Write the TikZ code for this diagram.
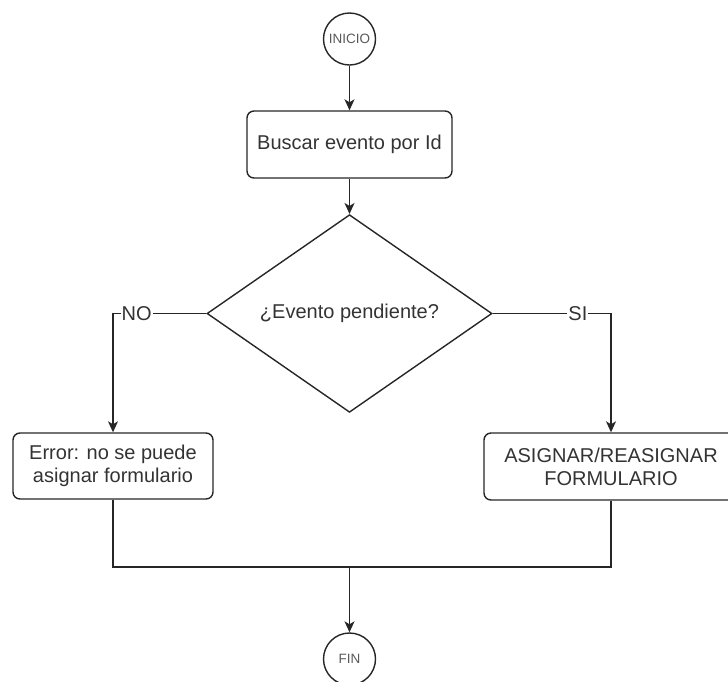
\documentclass[tikz,border=0pt]{standalone}
\usepackage{fontspec}
\setmainfont{Liberation Sans}
\usetikzlibrary{shapes.geometric,arrows.meta}

\begin{document}
\begin{tikzpicture}[x=1pt, y=-1pt, line width=1.4pt,
        >={Stealth[length=11pt, width=10pt, inset=3pt]},
        every node/.style={text=black!80, font=\fontsize{20}{23}\selectfont},
        terminal/.style={draw=black!85, circle, minimum size=52pt, inner sep=0pt, text=black!65, font=\fontsize{13.5}{15}\selectfont},
        proceso/.style={draw=black!85, rounded corners=7pt, align=center, inner sep=0pt},
        decision/.style={draw=black!85, diamond, minimum width=285pt, minimum height=137pt, inner sep=0pt},
        etiqueta/.style={fill=white, inner sep=1pt},
        linea/.style={draw=black!85}]
        \useasboundingbox (0, 0) rectangle (728, 681);
        \node [terminal] (inicio) at (349.5, 39) {INICIO};
        \node [proceso, minimum width=205pt, minimum height=67pt] (buscar) at (349.5, 144.5) {Buscar evento por Id};
        \node [decision] (pendiente) at (349.5, 313.5) {¿Evento pendiente?};
        \node [proceso, minimum width=200pt, minimum height=66pt] (error) at (113, 466) {Error: no se puede\\asignar formulario};
        \node [proceso, minimum width=254pt, minimum height=67pt] (asignar) at (611, 466.5) {ASIGNAR/REASIGNAR\\FORMULARIO};
        \coordinate (union) at (349.5, 567);
        \node [terminal] (fin) at (349.5, 659) {FIN};
        \draw [linea, ->] (inicio) to (buscar);
        \draw [linea, ->] (buscar) to (pendiente);
        \draw [linea, ->] (pendiente.west) -| node [etiqueta, pos=0.373] {NO} (error.north);
        \draw [linea, ->] (pendiente.east) -| node [etiqueta, pos=0.36] {SI} (asignar.north);
        \draw [linea] (error.south) |- (union) -| (asignar.south);
        \draw [linea, ->] (union) to (fin);
    \end{tikzpicture}
\end{document}
